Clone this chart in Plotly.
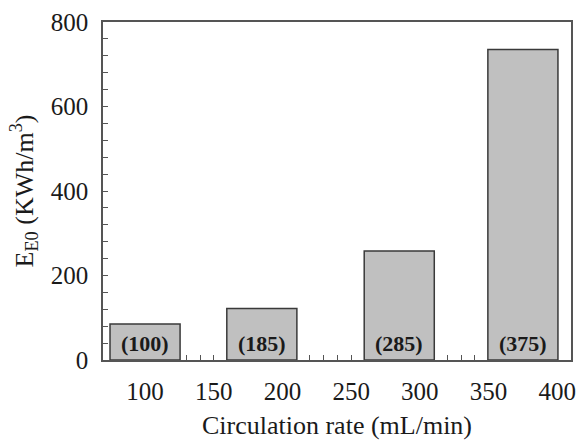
import plotly.graph_objects as go

# Circulation rates (mL/min) and electrical energy per order
rates = [100, 185, 285, 375]
energy = [85, 122, 258, 735]
x_ticks = [100, 150, 200, 250, 300, 350, 400]

FONT = "Liberation Serif"
INK = "#1a1a1a"
LINE = "#555555"

fig = go.Figure()
fig.add_trace(go.Bar(
    x=rates,
    y=energy,
    width=51,
    marker=dict(color="#c0c0c0", line=dict(color="#3a3a3a", width=1.5)),
    hoverinfo="x+y",
))

for r in rates:
    fig.add_annotation(
        x=r, y=0, yanchor="bottom", yshift=2,
        text=f"<b>({r})</b>", showarrow=False,
        font=dict(family=FONT, size=22, color=INK),
    )

fig.update_layout(
    width=579, height=440,
    margin=dict(l=103, r=8, t=22, b=80),
    paper_bgcolor="white", plot_bgcolor="white",
    showlegend=False,
    font=dict(family=FONT, size=25, color=INK),
    xaxis=dict(
        range=[69.4, 410],
        tickmode="array", tickvals=x_ticks,
        ticks="inside", ticklen=5, tickcolor=LINE,
        minor=dict(dtick=10, tick0=0, ticks="inside", ticklen=5, tickcolor=LINE),
        showline=True, linecolor=LINE, linewidth=1.5, mirror=True,
        showgrid=False, zeroline=False,
        layer="below traces",
        automargin=False,
        ticklabelstandoff=8,
        tickfont=dict(family=FONT, size=25, color=INK),
        title=dict(text="Circulation rate (mL/min)", standoff=12,
                   font=dict(family=FONT, size=26, color=INK)),
    ),
    yaxis=dict(
        range=[0, 800],
        tickmode="linear", tick0=0, dtick=200,
        ticks="inside", ticklen=5, tickcolor=LINE,
        minor=dict(dtick=40, ticks="inside", ticklen=5, tickcolor=LINE),
        showline=True, linecolor=LINE, linewidth=1.5, mirror=True,
        showgrid=False, zeroline=False,
        layer="below traces",
        automargin=False,
        ticklabelstandoff=8,
        tickfont=dict(family=FONT, size=25, color=INK),
        title=dict(text="E<sub>E0</sub> (KWh/m<sup>3</sup>)", standoff=10,
                   font=dict(family=FONT, size=26, color=INK)),
    ),
)

fig.write_html("out.html")
